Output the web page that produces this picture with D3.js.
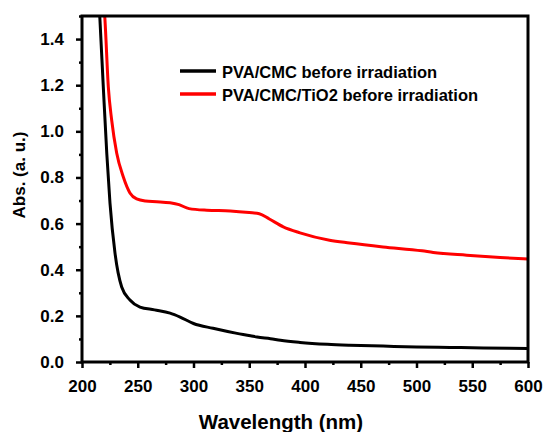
<!DOCTYPE html>
<html><head><meta charset="utf-8">
<script src="https://cdn.jsdelivr.net/npm/d3@7"></script>
<style>
body{margin:0;background:#fff;}
text{font-family:"Liberation Sans",Arial,sans-serif;font-weight:bold;fill:#000;}
</style></head>
<body>
<svg id="c" width="545" height="432"></svg>
<script>
const seriesNames = ["PVA/CMC before irradiation", "PVA/CMC/TiO2 before irradiation"];
const seriesColors = ["#000000", "#ff0000"];
const blackWl  = [213.5, 216.1, 219.1, 222.2, 225.1, 229.6, 235.6, 243, 252, 265, 279, 288, 300, 317.5, 339, 351, 357, 369, 378, 395.5, 420, 440, 470, 500, 530, 560, 600];
const blackAbs = [1.70, 1.483, 1.193, 0.906, 0.689, 0.472, 0.325, 0.269, 0.238, 0.226, 0.212, 0.195, 0.167, 0.146, 0.124, 0.114, 0.108, 0.101, 0.094, 0.085, 0.077, 0.073, 0.069, 0.065, 0.063, 0.061, 0.059];
const redWl  = [218, 220.6, 223.6, 226.6, 231.1, 237, 243, 249, 257, 267, 279, 287, 296, 312, 333, 350, 359, 368, 380.5, 395.5, 422, 440, 470, 505, 515, 545, 575, 600];
const redAbs = [1.65, 1.483, 1.193, 1.049, 0.906, 0.803, 0.733, 0.707, 0.698, 0.695, 0.69, 0.682, 0.665, 0.658, 0.655, 0.648, 0.643, 0.62, 0.586, 0.56, 0.528, 0.516, 0.499, 0.482, 0.475, 0.463, 0.453, 0.446];
const xTicks = [200, 250, 300, 350, 400, 450, 500, 550, 600];
const yTicks = [0.0, 0.2, 0.4, 0.6, 0.8, 1.0, 1.2, 1.4];
const xLabel = "Wavelength (nm)";
const yLabel = "Abs. (a. u.)";

const svg = d3.select("#c");
const L = 82, R = 528, T = 16, B = 362;
const x = d3.scaleLinear().domain([200, 600]).range([L, R]);
const y = d3.scaleLinear().domain([0, 1.5]).range([B, T]);

svg.append("defs").append("clipPath").attr("id","clip")
  .append("rect").attr("x",L).attr("y",T).attr("width",R-L).attr("height",B-T);

const series = [
  {wl: blackWl, ab: blackAbs, color: seriesColors[0]},
  {wl: redWl, ab: redAbs, color: seriesColors[1]}
];
const line = d3.line().x(d=>x(d[0])).y(d=>y(d[1])).curve(d3.curveMonotoneX);
const g = svg.append("g").attr("clip-path","url(#clip)");
series.forEach(s=>{
  g.append("path").datum(s.wl.map((w,i)=>[w,s.ab[i]]))
   .attr("d", line).attr("fill","none").attr("stroke",s.color).attr("stroke-width",3);
});

// axes
const xMinor = d3.range(225, 600, 50);
const yMinor = d3.range(0.1, 1.55, 0.2);
svg.append("g").attr("transform",`translate(0,${B})`)
  .call(d3.axisBottom(x).tickValues(xTicks).tickSize(6).tickPadding(12).tickFormat(d3.format("d")));
svg.append("g").attr("transform",`translate(0,${B})`)
  .call(d3.axisBottom(x).tickValues(xMinor).tickSize(3).tickFormat(""));
svg.append("g").attr("transform",`translate(${L},0)`)
  .call(d3.axisLeft(y).tickValues(yTicks).tickSize(6).tickPadding(12).tickFormat(d3.format(".1f")));
svg.append("g").attr("transform",`translate(${L},0)`)
  .call(d3.axisLeft(y).tickValues(yMinor).tickSize(3).tickFormat(""));
svg.selectAll(".tick line").attr("stroke","#000").attr("stroke-width",2.5);
svg.selectAll(".domain").remove();
svg.selectAll(".tick text").attr("font-size",17).attr("font-family","Liberation Sans, Arial, sans-serif").attr("font-weight","bold").attr("fill","#000");

svg.append("rect").attr("x",L).attr("y",T).attr("width",R-L).attr("height",B-T)
  .attr("fill","none").attr("stroke","#000").attr("stroke-width",3);

// labels
svg.append("text").attr("x",281).attr("y",429).attr("text-anchor","middle")
  .attr("font-size",20.5).text(xLabel);
svg.append("text").attr("transform",`translate(25,175) rotate(-90)`).attr("text-anchor","middle")
  .attr("font-size",17).text(yLabel);

// legend
const legY = [71, 94];
seriesNames.forEach((n,i)=>{
  svg.append("line").attr("x1",180).attr("x2",216).attr("y1",legY[i]).attr("y2",legY[i])
    .attr("stroke",seriesColors[i]).attr("stroke-width",3.5);
  svg.append("text").attr("x",222).attr("y",legY[i]+6.5).attr("font-size",16.5).text(n);
});
</script>
</body></html>
